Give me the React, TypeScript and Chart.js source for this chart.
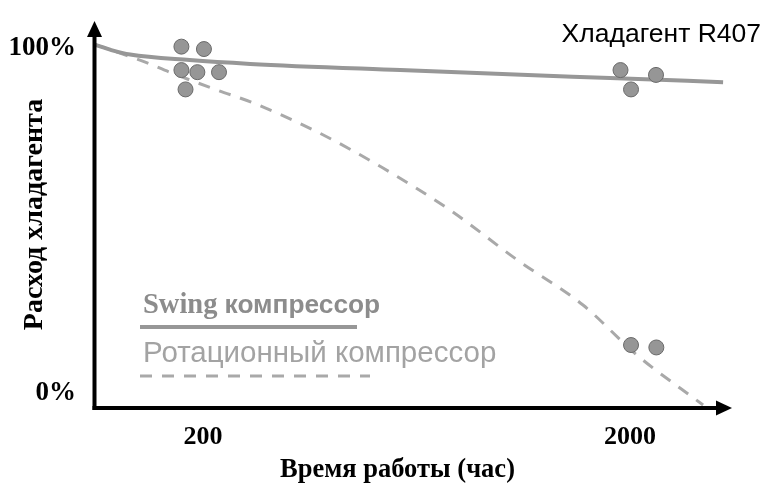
import React, { useEffect, useRef } from "react";
import { Chart, registerables } from "chart.js";

Chart.register(...registerables);

// ---- data ----
const hourTicks = [200, 2000];
const percentTicks = [0, 100];

const swingHours = [112, 122, 135, 186, 258, 579, 1796, 3304];
const swingPct = [100.9, 99.4, 98.1, 96.5, 95.4, 93.6, 91.3, 90.1];

const rotaryHours = [112, 122, 135, 148, 167, 216, 262, 370, 528, 758, 1088, 1552, 2076, 2966];
const rotaryPct = [100.9, 99.4, 97.5, 95.7, 93.0, 87.8, 84.1, 75.7, 65.2, 53.0, 38.6, 25.5, 11.0, -3.5];

const sampleHours = [178, 201, 178, 194, 218, 182, 1900, 2301, 2011, 2011, 2305];
const samplePct = [100.4, 99.7, 93.6, 93.0, 93.0, 88.0, 93.6, 92.2, 88.0, 13.9, 13.2];

const seriesNames = ["Swing компрессор", "Ротационный компрессор"];
const refrigerantLabel = "Хладагент R407";
const xTitle = "Время работы (час)";
const yTitle = "Расход хладагента";

const SERIF = "'Liberation Serif', 'Times New Roman', serif";
const SANS = "'Liberation Sans', Arial, sans-serif";

const SWING_COLOR = "#979797";
const ROTARY_COLOR = "#a9a9a9";

const decorPlugin = {
  id: "decor",
  afterDraw(chart: any) {
    const { ctx, chartArea: a } = chart;
    ctx.save();
    // axes with arrows
    ctx.fillStyle = "#000";
    ctx.strokeStyle = "#000";
    ctx.lineWidth = 4;
    const ax = a.left - 0.5;
    const ay = a.bottom;
    ctx.beginPath();
    ctx.moveTo(ax, ay + 2);
    ctx.lineTo(ax, a.top + 12);
    ctx.stroke();
    ctx.beginPath();
    ctx.moveTo(ax, a.top);
    ctx.lineTo(ax - 7.5, a.top + 16);
    ctx.lineTo(ax + 7.5, a.top + 16);
    ctx.closePath();
    ctx.fill();
    const tipX = a.right + 32;
    ctx.beginPath();
    ctx.moveTo(ax - 2, ay);
    ctx.lineTo(tipX - 12, ay);
    ctx.stroke();
    ctx.beginPath();
    ctx.moveTo(tipX, ay);
    ctx.lineTo(tipX - 16, ay - 7.5);
    ctx.lineTo(tipX - 16, ay + 7.5);
    ctx.closePath();
    ctx.fill();

    // refrigerant label
    ctx.fillStyle = "#000";
    ctx.font = `26.5px ${SANS}`;
    ctx.textAlign = "right";
    ctx.textBaseline = "alphabetic";
    ctx.fillText(refrigerantLabel, 761, 42);

    // legend
    ctx.textAlign = "left";
    const [w1, ...rest1] = seriesNames[0].split(" ");
    ctx.fillStyle = "#8c8c8c";
    ctx.font = `bold 28.5px ${SERIF}`;
    ctx.fillText(w1 + " ", 143, 313);
    const wSwing = ctx.measureText(w1 + " ").width;
    ctx.font = `bold 26.3px ${SANS}`;
    ctx.fillText(rest1.join(" "), 143 + wSwing, 313);

    ctx.strokeStyle = SWING_COLOR;
    ctx.lineWidth = 4;
    ctx.beginPath();
    ctx.moveTo(140, 327);
    ctx.lineTo(357, 327);
    ctx.stroke();

    ctx.fillStyle = "#a3a3a3";
    ctx.font = `29.5px ${SANS}`;
    ctx.fillText(seriesNames[1], 143, 362);

    ctx.strokeStyle = ROTARY_COLOR;
    ctx.lineWidth = 3;
    ctx.setLineDash([12, 10]);
    ctx.beginPath();
    ctx.moveTo(140, 376);
    ctx.lineTo(370, 376);
    ctx.stroke();
    ctx.restore();
  },
};

export default function App() {
  const ref = useRef<HTMLCanvasElement | null>(null);
  useEffect(() => {
    if (!ref.current) return;
    const chart = new Chart(ref.current, {
      type: "line",
      data: {
        datasets: [
          {
            label: seriesNames[0],
            data: swingHours.map((h, i) => ({ x: h, y: swingPct[i] })),
            borderColor: SWING_COLOR,
            borderWidth: 4,
            pointRadius: 0,
            cubicInterpolationMode: "monotone",
            clip: false as any,
            order: 2,
          },
          {
            label: seriesNames[1],
            data: rotaryHours.map((h, i) => ({ x: h, y: rotaryPct[i] })),
            borderColor: ROTARY_COLOR,
            borderWidth: 3,
            borderDash: [12, 10],
            pointRadius: 0,
            cubicInterpolationMode: "monotone",
            clip: false as any,
            order: 3,
          },
          {
            type: "scatter" as any,
            label: "samples",
            data: sampleHours.map((h, i) => ({ x: h, y: samplePct[i] })),
            backgroundColor: "#969696",
            borderColor: "#6a6a6a",
            borderWidth: 1,
            pointRadius: 7.5,
            showLine: false,
            clip: false as any,
            order: 1,
          },
        ],
      },
      options: {
        animation: false,
        responsive: false,
        events: [],
        layout: { padding: { left: 0, top: 21, right: 64, bottom: 0 } },
        plugins: { legend: { display: false }, tooltip: { enabled: false } },
        scales: {
          x: {
            type: "logarithmic",
            min: 111.7,
            max: 2917,
            grid: { display: false, drawTicks: false },
            border: { display: false },
            afterBuildTicks: (s: any) => {
              s.ticks = hourTicks.map((v) => ({ value: v }));
            },
            afterFit: (s: any) => {
              s.height = 78;
              s.paddingLeft = 0;
              s.paddingRight = 0;
            },
            ticks: {
              color: "#000",
              padding: 14,
              maxRotation: 0,
              autoSkip: false,
              font: { family: SERIF, size: 26, weight: "bold", lineHeight: 1.2 },
              callback: (v: any) => String(v),
            },
            title: {
              display: true,
              text: xTitle,
              color: "#000",
              padding: { top: 0, bottom: 0 },
              font: { family: SERIF, size: 26.5, weight: "bold", lineHeight: 1.2 },
            },
          },
          y: {
            type: "linear",
            min: -4.35,
            max: 107.83,
            grid: { display: false, drawTicks: false },
            border: { display: false },
            afterBuildTicks: (s: any) => {
              s.ticks = percentTicks.map((v) => ({ value: v }));
            },
            afterFit: (s: any) => {
              s.width = 95;
              s.paddingTop = 0;
              s.paddingBottom = 0;
            },
            ticks: {
              color: "#000",
              padding: 19,
              font: { family: SERIF, size: 27, weight: "bold", lineHeight: 1.2 },
              callback: (v: any) => v + "%",
            },
            title: {
              display: true,
              text: yTitle,
              color: "#000",
              padding: { top: 18, bottom: 0 },
              font: { family: SERIF, size: 28, weight: "bold", lineHeight: 1.2 },
            },
          },
        },
      },
      plugins: [decorPlugin],
    });
    return () => chart.destroy();
  }, []);
  return (
    <div style={{ position: "fixed", left: 0, top: 0, width: 764, height: 486, background: "#fff" }}>
      <canvas ref={ref} width={764} height={486} style={{ display: "block" }} />
    </div>
  );
}
